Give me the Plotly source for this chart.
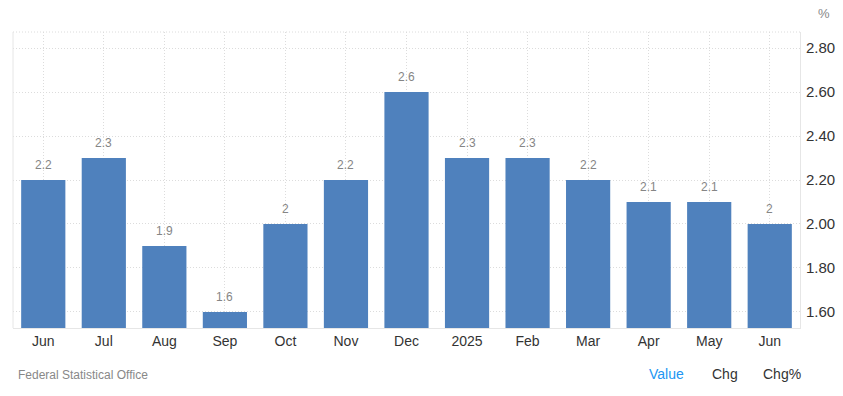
import plotly.graph_objects as go

labels = ["Jun", "Jul", "Aug", "Sep", "Oct", "Nov", "Dec", "2025", "Feb", "Mar", "Apr", "May", "Jun"]
values = [2.2, 2.3, 1.9, 1.6, 2.0, 2.2, 2.6, 2.3, 2.3, 2.2, 2.1, 2.1, 2.0]
value_text = ["2.2", "2.3", "1.9", "1.6", "2", "2.2", "2.6", "2.3", "2.3", "2.2", "2.1", "2.1", "2"]
y_ticks = [1.6, 1.8, 2.0, 2.2, 2.4, 2.6, 2.8]

positions = list(range(len(labels)))

FONT = "Arial, Liberation Sans, sans-serif"

fig = go.Figure(go.Bar(
    x=positions, y=values,
    marker=dict(color="#4f81bd", line=dict(width=0)),
    hoverinfo="x+y",
))

value_annotations = [
    dict(x=xp, y=v, xref="x", yref="y", text=t, showarrow=False,
         yanchor="bottom", yshift=6,
         font=dict(family=FONT, size=12, color="#858585"))
    for xp, v, t in zip(positions, values, value_text)
]

fig.update_layout(
    width=843, height=396,
    margin=dict(l=13, r=43, t=32, b=68, autoexpand=False),
    paper_bgcolor="white", plot_bgcolor="white",
    bargap=0.27, showlegend=False,
    font=dict(family=FONT),
    xaxis=dict(
        tickvals=positions, ticktext=labels,
        range=[-0.5, len(labels) - 0.5],
        showgrid=True, gridcolor="#dcdcdc", griddash="1px,2px", gridwidth=1,
        showline=True, linecolor="#e6e6e6", linewidth=1,
        ticks="", tickfont=dict(size=14, color="#333333", family=FONT),
        zeroline=False, fixedrange=True, automargin=False,
    ),
    yaxis=dict(
        side="right", range=[1.527, 2.873],
        tickvals=y_ticks, tickformat=".2f",
        showgrid=True, gridcolor="#dcdcdc", griddash="1px,2px", gridwidth=1,
        showline=True, linecolor="#e6e6e6", linewidth=1,
        ticks="", ticklabelstandoff=2,
        tickfont=dict(size=15, color="#333333", family=FONT),
        zeroline=False, fixedrange=True, automargin=False,
    ),
    shapes=[
        dict(type="line", xref="paper", yref="paper", x0=0, x1=1, y0=1, y1=1,
             line=dict(color="#dcdcdc", width=1, dash="1px,2px")),
        dict(type="line", xref="paper", yref="paper", x0=0, x1=0, y0=0, y1=1,
             line=dict(color="#e6e6e6", width=1)),
    ],
    annotations=value_annotations + [
        dict(text="%", xref="paper", yref="paper", x=1.0, y=1.0, xanchor="left", yanchor="bottom",
             xshift=16, yshift=9, showarrow=False, font=dict(size=13, color="#888888", family=FONT)),
        dict(text="Federal Statistical Office", xref="paper", yref="paper", x=0, y=0,
             xanchor="left", yanchor="middle", xshift=3, yshift=-47, showarrow=False,
             font=dict(size=12, color="#888888", family=FONT)),
        dict(text="Value", xref="paper", yref="paper", x=0, y=0, xanchor="left", yanchor="middle",
             xshift=634, yshift=-46, showarrow=False, font=dict(size=14, color="#2196f3", family=FONT)),
        dict(text="Chg", xref="paper", yref="paper", x=0, y=0, xanchor="left", yanchor="middle",
             xshift=697, yshift=-46, showarrow=False, font=dict(size=14, color="#333333", family=FONT)),
        dict(text="Chg%", xref="paper", yref="paper", x=0, y=0, xanchor="left", yanchor="middle",
             xshift=748, yshift=-46, showarrow=False, font=dict(size=14, color="#333333", family=FONT)),
    ],
)

fig.write_html("out.html", config={"displayModeBar": False},
               post_script="document.body.style.margin='0';document.body.style.overflow='hidden';")
